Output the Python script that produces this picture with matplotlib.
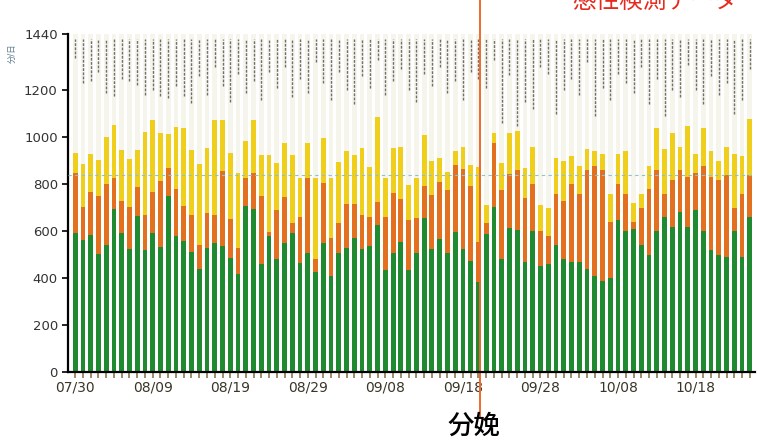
import numpy as np
import matplotlib
matplotlib.use('Agg')
import matplotlib.pyplot as plt

plt.rcParams['font.family'] = ['DejaVu Sans', 'Noto Sans CJK JP']

# 日毎の値（分）: 07/30 から 10/25 まで 88 日
green = [594, 562, 584, 503, 541, 693, 591, 523, 665, 520, 591, 531, 750, 579, 560,
         513, 439, 527, 548, 537, 487, 418, 707, 693, 459, 579, 480, 548, 591,
         466, 508, 425, 548, 410, 508, 527, 570, 523, 537, 627, 434, 508, 555, 435,
         506, 655, 523, 567, 506, 598, 523, 473, 385, 587, 704, 482, 612, 605,
         470, 600, 450, 460, 540, 480, 470, 470, 440, 410, 390, 400, 650, 600, 610,
         540, 500, 600, 660, 620, 680, 620, 690, 600, 520, 500, 490, 600, 490, 660]
orange_top = [847, 702, 768, 750, 801, 828, 730, 704, 790, 669, 768, 815, 868, 778, 707,
              669, 541, 679, 669, 856, 651, 527, 826, 847, 750, 598, 690, 747, 636,
              659, 826, 480, 804, 570, 636, 716, 716, 669, 659, 726, 659, 764, 736, 648,
              655, 794, 754, 811, 775, 882, 864, 793, 555, 634, 974, 775, 842, 861,
              740, 800, 600, 580, 760, 730, 800, 760, 860, 880, 860, 640, 800, 760, 640,
              700, 780, 860, 760, 820, 860, 830, 850, 880, 830, 820, 840, 700, 760, 840]
yellow_top = [934, 886, 927, 903, 1003, 1054, 946, 906, 946, 1024, 1074, 1020, 1013, 1043, 1040,
              946, 886, 956, 1074, 1074, 934, 847, 986, 1074, 925, 925, 889, 974, 925,
              826, 974, 826, 999, 826, 896, 943, 925, 953, 875, 1085, 826, 953, 960, 797,
              825, 1010, 900, 910, 853, 942, 960, 882, 875, 712, 1017, 892, 1017, 1028,
              870, 960, 712, 700, 910, 900, 920, 880, 950, 940, 930, 760, 930, 940, 720,
              760, 880, 1040, 950, 1020, 960, 1050, 930, 1040, 940, 900, 960, 930, 920, 1080]
dark_low = [1338, 1231, 1238, 1280, 1189, 1175, 1250, 1238, 1224, 1182, 1203, 1175, 1168, 1217, 1175, 1146,
            1260, 1180, 1300, 1220, 1150, 1270, 1190, 1240, 1160, 1280, 1210, 1300, 1170,
            1250, 1190, 1320, 1230, 1160, 1280, 1200, 1140, 1260, 1210, 1330, 1180, 1240, 1290, 1200,
            1150, 1270, 1220, 1300, 1190, 1240, 1160, 1280, 1250, 1210, 1330, 1060, 1265, 1050,
            1150, 1120, 1300, 1270, 1100, 1200, 1250, 1180, 1320, 1090, 1210, 1160, 1270, 1230, 1190,
            1300, 1140, 1250, 1090, 1200, 1170, 1310, 1200, 1140, 1260, 1180, 1230, 1100, 1160, 1290]

tick_labels = ['07/30', '08/09', '08/19', '08/29', '09/08', '09/18', '09/28', '10/08', '10/18']
yticks = [0, 200, 400, 600, 800, 1000, 1200, 1440]
birth_day = 52  # 09/20
ref_level = 840

green = np.array(green)
orange_top = np.array(orange_top)
yellow_top = np.array(yellow_top)
x = np.arange(len(green))

fig = plt.figure(figsize=(7.66, 4.42), dpi=100)
ax = fig.add_axes([0.089, 0.158, 0.897, 0.765])

w = 0.62
ax.bar(x, 1440 - yellow_top, w, bottom=yellow_top, color='#f5f5ec', zorder=1)
ax.vlines(x, dark_low, 1420, color='#707070', lw=1.0, linestyles=(0, (2, 1)), zorder=2)
ax.bar(x, green, w, color='#1f8a2f', zorder=3)
ax.bar(x, orange_top - green, w, bottom=green, color='#e2701f', zorder=3)
ax.bar(x, yellow_top - orange_top, w, bottom=orange_top, color='#f0cf1c', zorder=3)

ax.axhline(ref_level, color='#8cc4cc', lw=0.8, ls=(0, (3, 3)), zorder=4)

# 分娩の縦線
ax.plot([birth_day + 0.15, birth_day + 0.15], [-190, 1590], color='#ee6a2a', lw=1.4,
        clip_on=False, zorder=5)

ax.set_xlim(-0.9, 87.7)
ax.set_ylim(0, 1440)
ax.set_yticks(yticks)
ax.set_xticks(np.arange(0, 81, 10))
ax.set_xticklabels(tick_labels)
ax.set_xticks(x, minor=True)
ax.tick_params(axis='x', which='both', direction='out', length=4, width=1.2,
               color='#8a7a50', labelsize=10, labelcolor='#3a3528', pad=2)
ax.tick_params(axis='y', direction='out', length=4, width=1.2, labelsize=9.5,
               labelcolor='#333333')
for s in ['top', 'right']:
    ax.spines[s].set_visible(False)
for s in ['left', 'bottom']:
    ax.spines[s].set_linewidth(1.6)
ax.spines['bottom'].set_zorder(6)

fig.text(0.016, 0.88, '分/日', rotation=90, fontsize=6, color='#5a7a8a', ha='center', va='center')
fig.text(0.855, 0.996, '感性検測データ', fontsize=17, color='#e8281c', ha='center', va='center')
fig.text(0.618, 0.034, '分娩', fontsize=19, color='black', ha='center', va='center',
         fontweight='medium')

fig.savefig('out.png', dpi=100)
